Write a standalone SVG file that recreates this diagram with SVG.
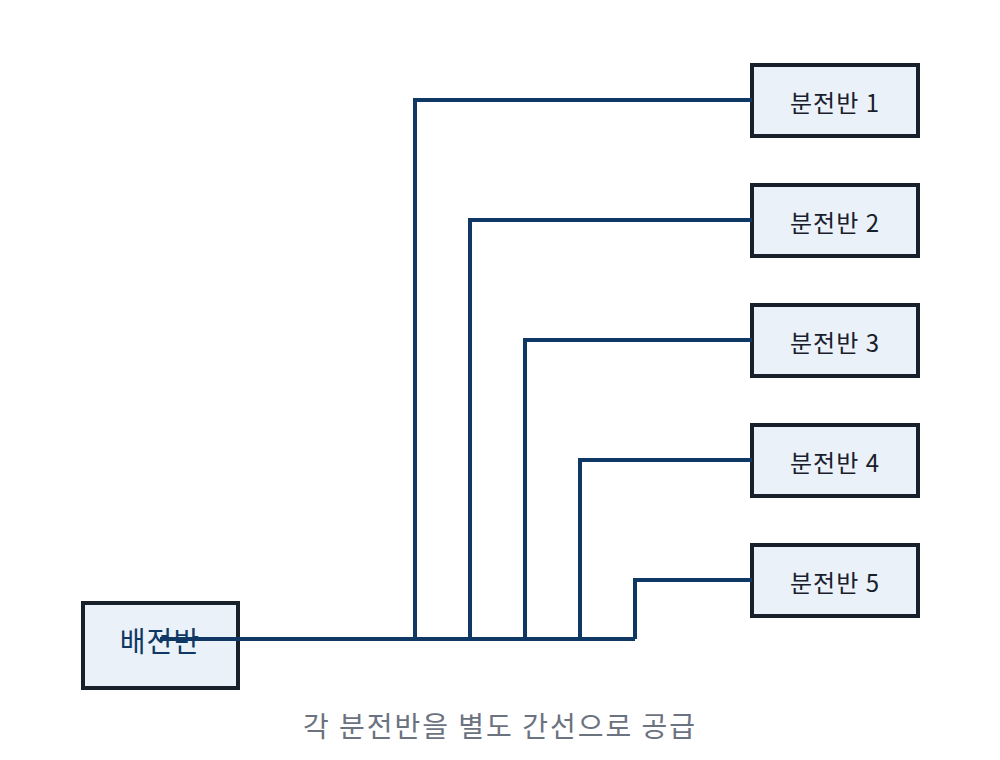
<svg xmlns="http://www.w3.org/2000/svg" width="1000" height="760" viewBox="0 0 1000 760">
<style>
.box{fill:#eaf1f8;stroke:#18202c;stroke-width:4}
.t{font-family:"Noto Sans CJK KR","Noto Sans",sans-serif;font-size:24px;fill:#18202c;text-anchor:middle;dominant-baseline:central;letter-spacing:1px}
.w{fill:none;stroke:#0f3864;stroke-width:4}
</style>
<rect width="1000" height="760" fill="#fff"/>
<g id="main"><rect class="box" x="83" y="603" width="155" height="85"/><text class="t" x="160" y="640" style="font-size:28px;fill:#0f3864">배전반</text></g>
<g id="p1"><rect class="box" x="752" y="65" width="166" height="71"/><text class="t" x="835" y="101">분전반 1</text></g>
<g id="p2"><rect class="box" x="752" y="185" width="166" height="71"/><text class="t" x="835" y="221">분전반 2</text></g>
<g id="p3"><rect class="box" x="752" y="305" width="166" height="71"/><text class="t" x="835" y="341">분전반 3</text></g>
<g id="p4"><rect class="box" x="752" y="425" width="166" height="71"/><text class="t" x="835" y="461">분전반 4</text></g>
<g id="p5"><rect class="box" x="752" y="545" width="166" height="71"/><text class="t" x="835" y="581">분전반 5</text></g>
<g id="connectors">
<path class="w" d="M160 639H635"/>
<path class="w" d="M415 639V100H752"/>
<path class="w" d="M470 639V220H752"/>
<path class="w" d="M525 639V340H752"/>
<path class="w" d="M580 639V460H752"/>
<path class="w" d="M635 639V580H752"/>
</g>
<text class="t" x="500" y="725" style="font-size:28px;fill:#6b7280;letter-spacing:2px">각 분전반을 별도 간선으로 공급</text>
</svg>
